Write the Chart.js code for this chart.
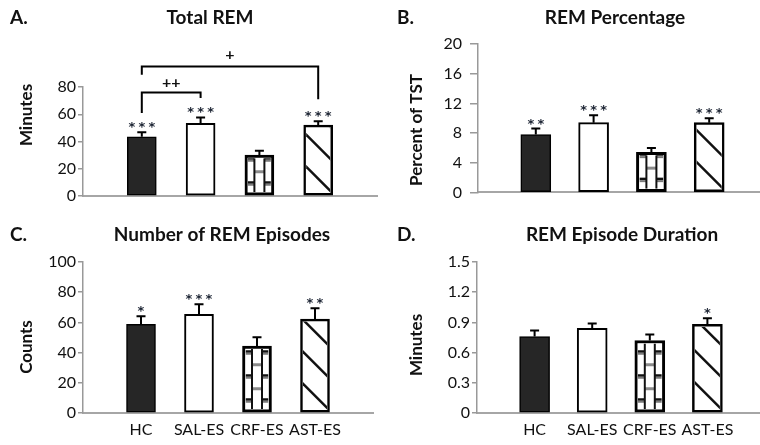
<!DOCTYPE html>
<html>
<head>
<meta charset="utf-8">
<script src="https://cdn.jsdelivr.net/npm/chart.js@4.4.1/dist/chart.umd.min.js"></script>
<style>
  html, body { margin: 0; padding: 0; background: #fff; overflow: hidden; width: 760px; height: 445px; }
  canvas { position: absolute; }
</style>
</head>
<body>
<canvas id="chartA" width="380" height="210" style="left:0;top:0"></canvas>
<canvas id="chartB" width="392" height="210" style="left:380px;top:0"></canvas>
<canvas id="chartC" width="380" height="235" style="left:0;top:210px"></canvas>
<canvas id="chartD" width="392" height="235" style="left:380px;top:210px"></canvas>
<script>
// groups on the x axis
var groups = ['HC', 'SAL-ES', 'CRF-ES', 'AST-ES'];

// A. Total REM (minutes)
var totalRem = [43.5, 53.3, 30.0, 52.0];
var totalRemSem = [3.2, 4.4, 3.2, 2.8];
var totalRemStars = ['***', '***', '', '***'];
var totalRemTicks = [0, 20, 40, 60, 80];

// B. REM percentage of TST
var remPct = [7.8, 9.4, 5.4, 9.4];
var remPctSem = [0.8, 1.0, 0.6, 0.6];
var remPctStars = ['**', '***', '', '***'];
var remPctTicks = [0, 4, 8, 12, 16, 20];

// C. number of REM episodes
var remEpisodes = [58.7, 65.3, 44.4, 62.2];
var remEpisodesSem = [5.4, 6.7, 5.7, 7.2];
var remEpisodesStars = ['*', '***', '', '**'];
var remEpisodesTicks = [0, 20, 40, 60, 80, 100];

// D. REM episode duration (minutes)
var remDuration = [0.76, 0.84, 0.72, 0.88];
var remDurationSem = [0.06, 0.05, 0.06, 0.06];
var remDurationStars = ['', '', '', '*'];
var remDurationTicks = [0, 0.3, 0.6, 0.9, 1.2, 1.5];

// between-group comparisons in panel A (group index, bracket level, leg ends, label height)
var totalRemBrackets = [
    { from: 0, to: 1, level: 76, legs: [61, 72], labelAt: 83, label: '++' },
    { from: 0, to: 3, level: 95, legs: [89, 71], labelAt: 103.5, label: '+' }
];

Chart.defaults.font.family = 'Lato, "Open Sans", sans-serif';
Chart.defaults.color = '#111';

var fills = ['#262626', '#ffffff', '#ffffff', '#ffffff'];
var borderWidths = [1.5, 2, 3, 2.5];

function pad(arr, v) {
    return [v].concat(arr, [v]);
}

function drawBricks(ctx, p, bw) {
    var l = p.x - p.width / 2 + bw, r = p.x + p.width / 2 - bw;
    var t = p.y + bw, b = p.base - bw;
    var c1 = p.x - 5, c2 = p.x + 5, y;
    ctx.save();
    ctx.beginPath();
    ctx.rect(l, t, r - l, b - t);
    ctx.clip();
    for (y = p.base - 12; y > p.y - 24; y -= 24) {
        ctx.fillStyle = '#111';
        ctx.fillRect(l, y - 2, c1 - l, 2.5);
        ctx.fillRect(c2, y - 2, r - c2, 2.5);
        ctx.fillStyle = '#7a7a7a';
        ctx.fillRect(l, y + 0.5, c1 - l, 2);
        ctx.fillRect(c2, y + 0.5, r - c2, 2);
    }
    ctx.fillStyle = '#8a8a8a';
    for (y = p.base - 24; y > p.y - 24; y -= 24) {
        ctx.fillRect(c1, y - 1, c2 - c1, 3);
    }
    ctx.strokeStyle = '#111';
    ctx.lineWidth = 2;
    ctx.beginPath();
    ctx.moveTo(c1, t); ctx.lineTo(c1, b);
    ctx.moveTo(c2, t); ctx.lineTo(c2, b);
    ctx.stroke();
    ctx.restore();
}

function drawHatch(ctx, p, bw) {
    var L = p.x - p.width / 2, R = p.x + p.width / 2;
    ctx.save();
    ctx.beginPath();
    ctx.rect(L + bw, p.y + bw, R - L - 2 * bw, p.base - p.y - 2 * bw);
    ctx.clip();
    ctx.strokeStyle = '#111';
    ctx.lineWidth = 2.5;
    for (var yR = p.base - 2; yR > p.y; yR -= 32) {
        ctx.beginPath();
        ctx.moveTo(L, yR - (R - L));
        ctx.lineTo(R, yR);
        ctx.stroke();
    }
    ctx.restore();
}

var panelDecor = {
    id: 'panelDecor',
    afterDatasetsDraw: function (chart) {
        var o = chart.options.plugins.panelDecor;
        var ctx = chart.ctx;
        var xs = chart.scales.x, ys = chart.scales.y;
        var meta = chart.getDatasetMeta(0);
        ctx.save();
        groups.forEach(function (g, i) {
            var el = meta.data[i + 1];
            var p = el.getProps(['x', 'y', 'base', 'width'], true);
            if (i === 2) drawBricks(ctx, p, borderWidths[i]);
            if (i === 3) drawHatch(ctx, p, borderWidths[i]);
            // upper error bar
            var top = ys.getPixelForValue(o.values[i] + o.sem[i]);
            ctx.strokeStyle = '#000';
            ctx.lineWidth = 2;
            ctx.beginPath();
            ctx.moveTo(p.x, p.y);
            ctx.lineTo(p.x, top);
            ctx.moveTo(p.x - 4.5, top);
            ctx.lineTo(p.x + 4.5, top);
            ctx.stroke();
            // significance stars
            var s = o.stars[i];
            ctx.fillStyle = '#1c2433';
            ctx.font = 'bold 13px "DejaVu Sans"';
            ctx.textAlign = 'center';
            ctx.textBaseline = 'alphabetic';
            for (var k = 0; k < s.length; k++) {
                ctx.fillText('*', p.x + (k - (s.length - 1) / 2) * 10, top - 9 + 8);
            }
        });
        (o.brackets || []).forEach(function (bk) {
            var x1 = xs.getPixelForValue(bk.from + 1), x2 = xs.getPixelForValue(bk.to + 1);
            var y = ys.getPixelForValue(bk.level);
            ctx.strokeStyle = '#000';
            ctx.lineWidth = 2;
            ctx.beginPath();
            ctx.moveTo(x1, ys.getPixelForValue(bk.legs[0]));
            ctx.lineTo(x1, y);
            ctx.lineTo(x2, y);
            ctx.lineTo(x2, ys.getPixelForValue(bk.legs[1]));
            ctx.stroke();
            ctx.fillStyle = '#111';
            ctx.font = 'bold 16px Lato';
            ctx.textAlign = 'center';
            ctx.textBaseline = 'middle';
            ctx.fillText(bk.label, (x1 + x2) / 2, ys.getPixelForValue(bk.labelAt));
        });
        ctx.restore();
    },
    afterDraw: function (chart) {
        var o = chart.options.plugins.panelDecor;
        var ctx = chart.ctx;
        ctx.save();
        ctx.fillStyle = '#111';
        ctx.textBaseline = 'middle';
        ctx.font = 'bold 19px Lato';
        ctx.textAlign = 'left';
        ctx.fillText(o.letter, o.letterX, o.headY);
        ctx.textAlign = 'center';
        ctx.fillText(o.title, o.titleX, o.headY);
        ctx.font = 'bold 17px Lato';
        ctx.translate(o.yTitleX, o.yTitleY);
        ctx.rotate(-Math.PI / 2);
        ctx.fillText(o.yTitle, 0, 0);
        ctx.restore();
    }
};

function makePanel(id, cfg) {
    var ctx = document.getElementById(id).getContext('2d');
    var yTicks = cfg.ticks;
    return new Chart(ctx, {
        type: 'bar',
        data: {
            labels: pad(groups, ''),
            datasets: [{
                data: pad(cfg.values, null),
                backgroundColor: pad(fills, '#fff'),
                borderColor: '#000',
                borderWidth: pad(borderWidths, 0),
                borderSkipped: false,
                barThickness: cfg.barWidth
            }]
        },
        options: {
            responsive: false,
            animation: false,
            layout: { padding: { top: cfg.top, right: cfg.right, left: 0, bottom: 0 } },
            plugins: {
                legend: { display: false },
                tooltip: { enabled: false },
                panelDecor: {
                    letter: cfg.letter, title: cfg.title, yTitle: cfg.yTitle,
                    letterX: cfg.letterX, titleX: cfg.titleX, headY: cfg.headY,
                    yTitleX: cfg.yTitleX, yTitleY: cfg.yTitleY,
                    values: cfg.values, sem: cfg.sem, stars: cfg.stars,
                    brackets: cfg.brackets
                }
            },
            scales: {
                x: {
                    offset: false,
                    grid: { display: false, drawTicks: false },
                    border: { display: true, color: '#a6a6a6', width: 2 },
                    ticks: { display: cfg.showX, padding: 7, color: '#111', font: { size: 16 }, autoSkip: false, maxRotation: 0 },
                    afterFit: function (scale) { scale.height = cfg.xHeight; }
                },
                y: {
                    min: 0,
                    max: yTicks[yTicks.length - 1],
                    grid: { drawOnChartArea: false, drawTicks: true, tickLength: cfg.tickLen, color: '#999', lineWidth: 1.5 },
                    border: { display: true, color: '#999', width: 1.5 },
                    ticks: {
                        padding: cfg.tickPad, color: '#111', font: { size: 16 },
                        callback: function (v) { return String(v); }
                    },
                    afterBuildTicks: function (scale) {
                        scale.ticks = yTicks.map(function (v) { return { value: v }; });
                    },
                    afterFit: function (scale) { scale.width = cfg.yWidth; }
                }
            }
        },
        plugins: [panelDecor]
    });
}

makePanel('chartA', {
    letter: 'A.', title: 'Total REM', yTitle: 'Minutes',
    values: totalRem, sem: totalRemSem, stars: totalRemStars, ticks: totalRemTicks,
    brackets: totalRemBrackets, showX: false, barWidth: 29,
    top: 87, right: 3, yWidth: 83, xHeight: 14, tickLen: 5, tickPad: 2,
    letterX: 10, titleX: 210, headY: 18, yTitleX: 27, yTitleY: 115
});
makePanel('chartB', {
    letter: 'B.', title: 'REM Percentage', yTitle: 'Percent of TST',
    values: remPct, sem: remPctSem, stars: remPctStars, ticks: remPctTicks,
    showX: false, barWidth: 30,
    top: 44, right: 5, yWidth: 98, xHeight: 13, tickLen: 8, tickPad: 8,
    letterX: 17, titleX: 235, headY: 18, yTitleX: 37, yTitleY: 130
});
makePanel('chartC', {
    letter: 'C.', title: 'Number of REM Episodes', yTitle: 'Counts',
    values: remEpisodes, sem: remEpisodesSem, stars: remEpisodesStars, ticks: remEpisodesTicks,
    showX: true, barWidth: 29,
    top: 52, right: 3, yWidth: 83, xHeight: 32, tickLen: 5, tickPad: 2,
    letterX: 10, titleX: 222, headY: 25, yTitleX: 27, yTitleY: 137
});
makePanel('chartD', {
    letter: 'D.', title: 'REM Episode Duration', yTitle: 'Minutes',
    values: remDuration, sem: remDurationSem, stars: remDurationStars, ticks: remDurationTicks,
    showX: true, barWidth: 30,
    top: 52, right: 5, yWidth: 97, xHeight: 32, tickLen: 5, tickPad: 2,
    letterX: 17, titleX: 242, headY: 25, yTitleX: 37, yTitleY: 135
});
</script>
</body>
</html>
